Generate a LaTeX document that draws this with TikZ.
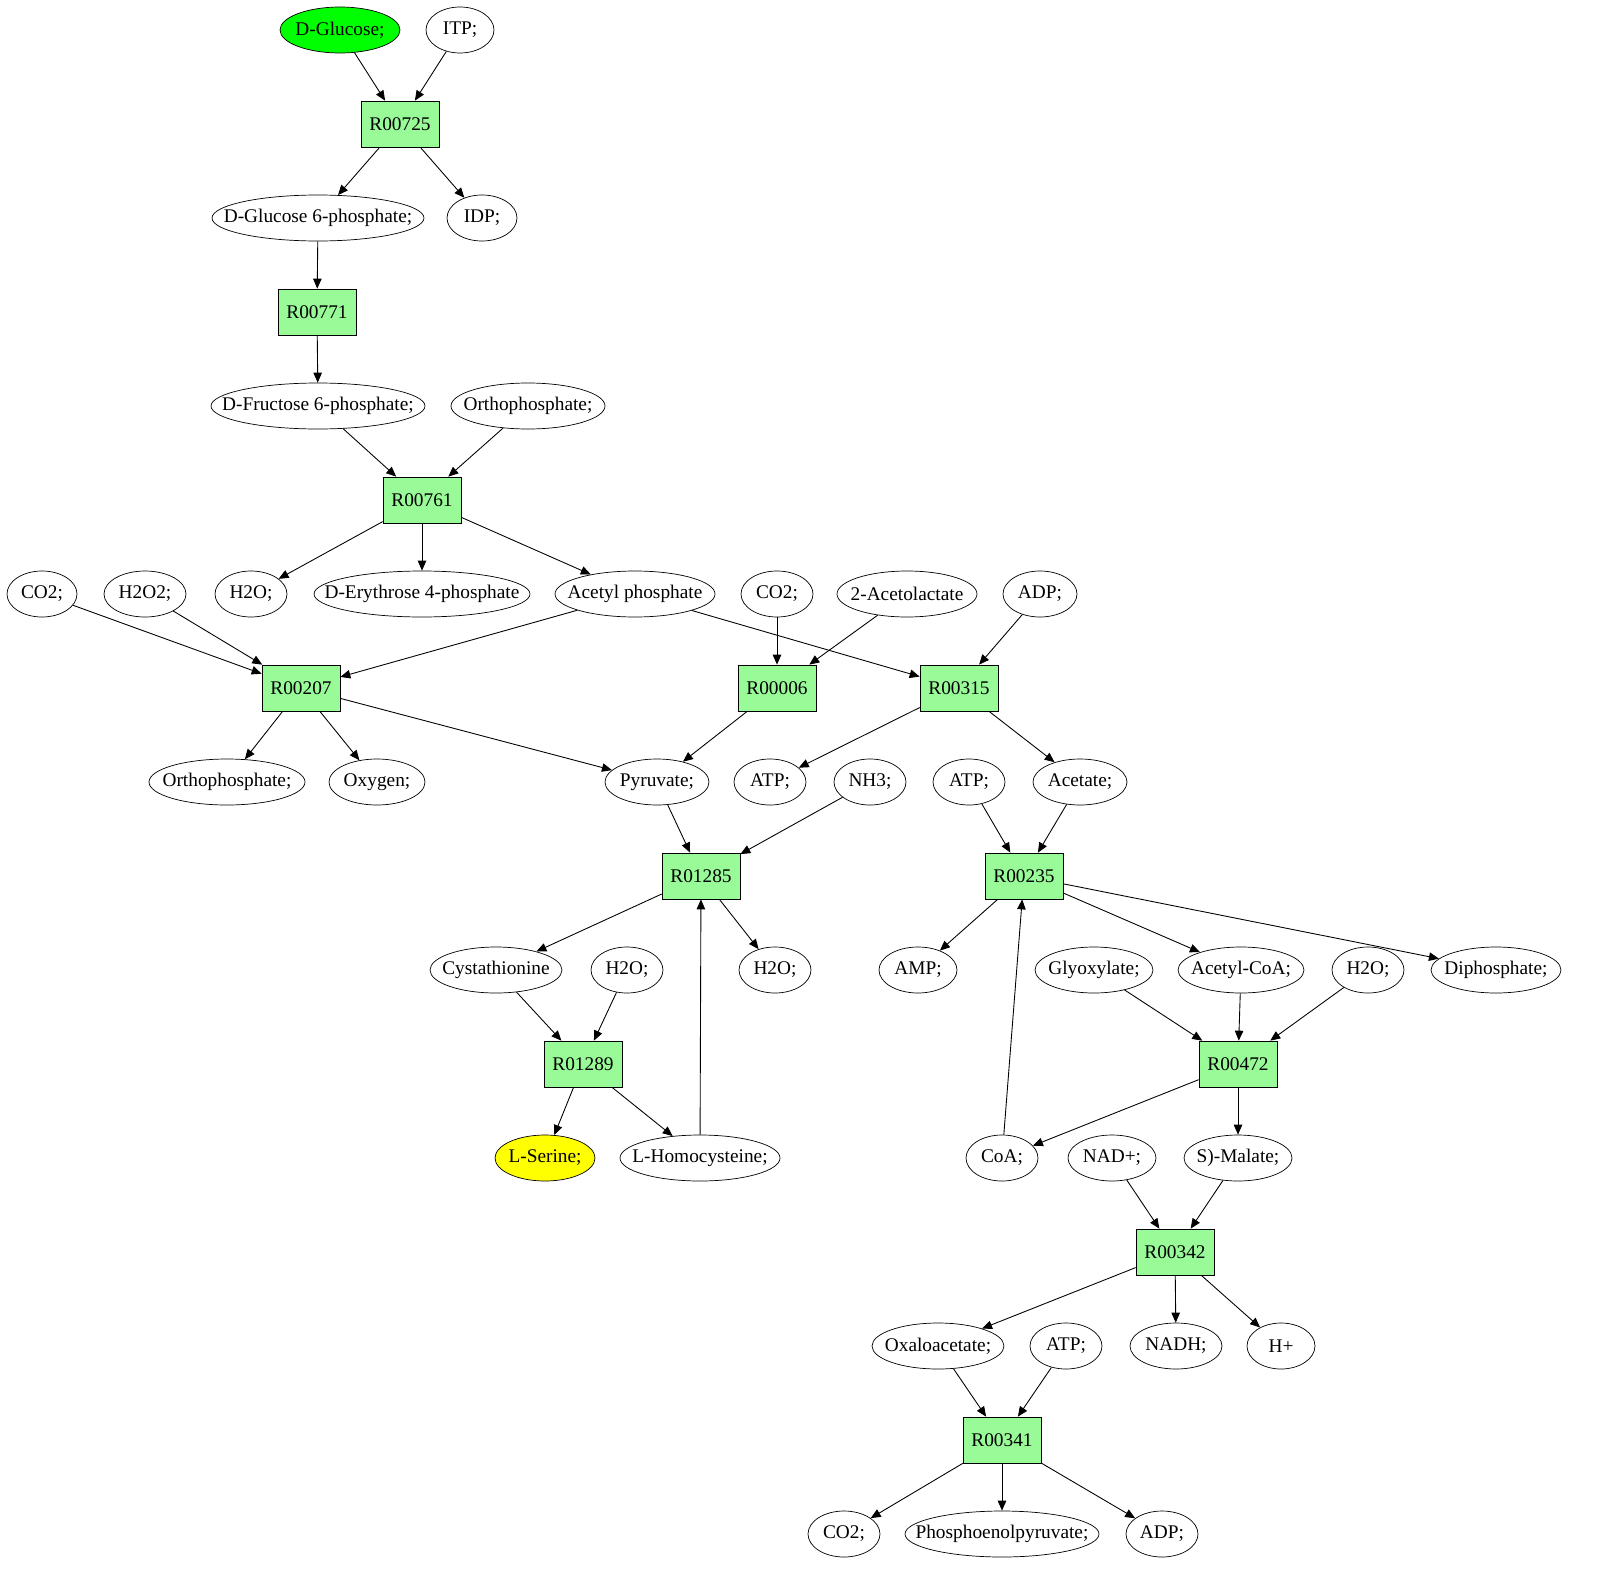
\documentclass[tikz,border=0pt]{standalone}
\usepackage{fontspec}
\setmainfont{Liberation Serif}
\usetikzlibrary{shapes.geometric,arrows.meta}
\definecolor{rxngreen}{RGB}{152,251,152}
\definecolor{srcgreen}{RGB}{0,255,0}
\definecolor{tgtyellow}{RGB}{255,255,0}
\tikzset{
  met/.style={draw, ellipse, inner xsep=-2.5cm, inner ysep=0pt, minimum height=0.92cm, minimum width=#1},
  rxn/.style={draw, rectangle, fill=rxngreen, minimum width=1.56cm, minimum height=0.92cm},
  flow/.style={-{Triangle[length=0.2cm,width=0.17cm]}, line width=0.5pt}
}
\begin{document}
\begin{tikzpicture}[x=0.02cm, y=-0.02cm, font=\fontsize{11}{13}\selectfont]
\useasboundingbox (0,0) rectangle (1599,1595);
% metabolites and reactions
\node[met=2.40cm, fill=srcgreen] (glc) at (340,30) {D-Glucose;};
\node[met=1.36cm] (itp) at (460,30) {ITP;};
\node[rxn] (r725) at (400,124) {R00725};
\node[met=4.24cm] (g6p) at (318,218) {D-Glucose 6-phosphate;};
\node[met=1.40cm] (idp) at (482,218) {IDP;};
\node[rxn] (r771) at (317,312) {R00771};
\node[met=4.28cm] (f6p) at (318,406) {D-Fructose 6-phosphate;};
\node[met=3.08cm] (pia) at (528,406) {Orthophosphate;};
\node[rxn] (r761) at (422,500) {R00761};
\node[met=1.40cm] (co2a) at (42,594) {CO2;};
\node[met=1.64cm] (h2o2) at (145,594) {H2O2;};
\node[met=1.44cm] (h2oa) at (251,594) {H2O;};
\node[met=4.32cm] (e4p) at (422,594) {D-Erythrose 4-phosphate};
\node[met=3.20cm] (acp) at (635,594) {Acetyl phosphate};
\node[met=1.44cm] (co2b) at (777,594) {CO2;};
\node[met=2.80cm] (acl) at (907,594) {2-Acetolactate};
\node[met=1.48cm] (adpa) at (1040,594) {ADP;};
\node[rxn] (r207) at (301,688) {R00207};
\node[rxn] (r006) at (777,688) {R00006};
\node[rxn] (r315) at (959,688) {R00315};
\node[met=3.12cm] (pib) at (227,782) {Orthophosphate;};
\node[met=1.92cm] (oxy) at (377,782) {Oxygen;};
\node[met=2.08cm] (pyr) at (657,782) {Pyruvate;};
\node[met=1.44cm] (atpa) at (770,782) {ATP;};
\node[met=1.44cm] (nh3) at (870,782) {NH3;};
\node[met=1.44cm] (atpb) at (969,782) {ATP;};
\node[met=1.88cm] (ace) at (1080,782) {Acetate;};
\node[rxn] (r1285) at (701,876) {R01285};
\node[rxn] (r235) at (1024,876) {R00235};
\node[met=2.64cm] (cth) at (496,970) {Cystathionine};
\node[met=1.44cm] (h2ob) at (627,970) {H2O;};
\node[met=1.44cm] (h2oc) at (775,970) {H2O;};
\node[met=1.56cm] (amp) at (918,970) {AMP;};
\node[met=2.36cm] (glx) at (1094,970) {Glyoxylate;};
\node[met=2.52cm] (accoa) at (1241,970) {Acetyl-CoA;};
\node[met=1.44cm] (h2od) at (1368,970) {H2O;};
\node[met=2.60cm] (ppi) at (1496,970) {Diphosphate;};
\node[rxn] (r1289) at (583,1064) {R01289};
\node[rxn] (r472) at (1238,1064) {R00472};
\node[met=2.00cm, fill=tgtyellow] (ser) at (545,1158) {L-Serine;};
\node[met=3.20cm] (hcy) at (700,1158) {L-Homocysteine;};
\node[met=1.44cm] (coa) at (1002,1158) {CoA;};
\node[met=1.76cm] (nad) at (1112,1158) {NAD+;};
\node[met=2.16cm] (mal) at (1238,1158) {S)-Malate;};
\node[rxn] (r342) at (1175,1252) {R00342};
\node[met=2.64cm] (oaa) at (938,1346) {Oxaloacetate;};
\node[met=1.44cm] (atpc) at (1066,1346) {ATP;};
\node[met=1.84cm] (nadh) at (1176,1346) {NADH;};
\node[met=1.36cm] (hplus) at (1281,1346) {H+};
\node[rxn] (r341) at (1002,1440) {R00341};
\node[met=1.44cm] (co2c) at (844,1534) {CO2;};
\node[met=3.88cm] (pep) at (1002,1534) {Phosphoenolpyruvate;};
\node[met=1.44cm] (adpb) at (1162,1534) {ADP;};
% connectors
\draw[flow] (glc) -- (r725);
\draw[flow] (itp) -- (r725);
\draw[flow] (r725) -- (g6p);
\draw[flow] (r725) -- (idp);
\draw[flow] (g6p) -- (r771);
\draw[flow] (r771) -- (f6p);
\draw[flow] (f6p) -- (r761);
\draw[flow] (pia) -- (r761);
\draw[flow] (r761) -- (h2oa);
\draw[flow] (r761) -- (e4p);
\draw[flow] (r761) -- (acp);
\draw[flow] (co2a) -- (r207);
\draw[flow] (h2o2) -- (r207);
\draw[flow] (acp) -- (r207);
\draw[flow] (co2b) -- (r006);
\draw[flow] (acl) -- (r006);
\draw[flow] (acp) -- (r315);
\draw[flow] (adpa) -- (r315);
\draw[flow] (r207) -- (pib);
\draw[flow] (r207) -- (oxy);
\draw[flow] (r207) -- (pyr);
\draw[flow] (r006) -- (pyr);
\draw[flow] (r315) -- (atpa);
\draw[flow] (r315) -- (ace);
\draw[flow] (pyr) -- (r1285);
\draw[flow] (nh3) -- (r1285);
\draw[flow] (atpb) -- (r235);
\draw[flow] (ace) -- (r235);
\draw[flow] (r1285) -- (cth);
\draw[flow] (r1285) -- (h2oc);
\draw[flow] (hcy) -- (r1285);
\draw[flow] (r235) -- (amp);
\draw[flow] (r235) -- (accoa);
\draw[flow] (r235) -- (ppi);
\draw[flow] (coa) -- (r235);
\draw[flow] (cth) -- (r1289);
\draw[flow] (h2ob) -- (r1289);
\draw[flow] (r1289) -- (ser);
\draw[flow] (r1289) -- (hcy);
\draw[flow] (glx) -- (r472);
\draw[flow] (accoa) -- (r472);
\draw[flow] (h2od) -- (r472);
\draw[flow] (r472) -- (coa);
\draw[flow] (r472) -- (mal);
\draw[flow] (nad) -- (r342);
\draw[flow] (mal) -- (r342);
\draw[flow] (r342) -- (oaa);
\draw[flow] (r342) -- (nadh);
\draw[flow] (r342) -- (hplus);
\draw[flow] (oaa) -- (r341);
\draw[flow] (atpc) -- (r341);
\draw[flow] (r341) -- (co2c);
\draw[flow] (r341) -- (pep);
\draw[flow] (r341) -- (adpb);
\end{tikzpicture}
\end{document}
